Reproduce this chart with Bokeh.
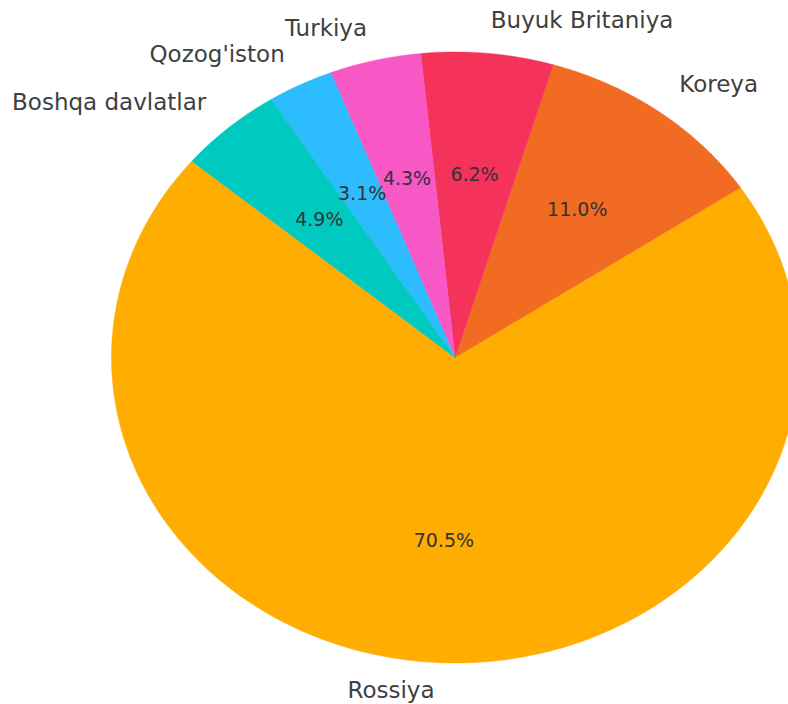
import numpy as np
from bokeh.plotting import figure
from bokeh.models import Range1d, ColumnDataSource
from bokeh.core.properties import value
from bokeh.embed import file_html
from bokeh.resources import INLINE

# Data
countries = ["Rossiya", "Koreya", "Buyuk Britaniya", "Turkiya", "Qozog'iston", "Boshqa davlatlar"]
shares = [70.5, 11.0, 6.2, 4.3, 3.1, 4.9]
colors = ["#FFAD00", "#F26B22", "#F5325A", "#F857C6", "#2DBDFF", "#00C9BF"]
start_angle_deg = 140.0

# Layout (screen geometry of the stretched pie)
W, H = 788, 704
cx_px, cy_px = 454.5, 357.0
rx_px, ry_px = 343.5, 305.5

p = figure(width=W, height=H, output_backend="svg", toolbar_location=None,
           x_range=Range1d(-cx_px / rx_px, (W - cx_px) / rx_px),
           y_range=Range1d(-(H - cy_px) / ry_px, cy_px / ry_px),
           min_border=0, min_border_left=0, min_border_right=0,
           min_border_top=0, min_border_bottom=0)
p.axis.visible = False
p.grid.visible = False
p.outline_line_color = None
p.background_fill_color = "white"
p.border_fill_color = "white"

total = float(sum(shares))
fracs = np.array(shares) / total
ends = start_angle_deg + 360.0 * np.cumsum(fracs)
starts = ends - 360.0 * fracs

xs, ys = [], []
for a0, a1 in zip(starts, ends):
    t = np.radians(np.linspace(a0, a1, 200))
    xs.append(np.concatenate([[0.0], np.cos(t), [0.0]]))
    ys.append(np.concatenate([[0.0], np.sin(t), [0.0]]))

p.patches(xs=xs, ys=ys, fill_color=colors, line_color=colors, line_width=0.5)

mid = np.radians((starts + ends) / 2.0)
# percentage labels
pct_src = ColumnDataSource(dict(
    x=0.6 * np.cos(mid), y=0.6 * np.sin(mid),
    t=["%.1f%%" % s for s in shares]))
p.text(x="x", y="y", text="t", source=pct_src, text_align="center",
       text_baseline="middle", text_font=value("DejaVu Sans"),
       text_font_size="19px", text_color="#333333", y_offset=-1)

# category labels
lx = 1.1 * np.cos(mid)
ly = 1.1 * np.sin(mid)
align = ["left" if v > 0 else "right" for v in lx]
lab_src = ColumnDataSource(dict(x=lx, y=ly, t=countries, a=align))
p.text(x="x", y="y", text="t", source=lab_src, text_align="a",
       text_baseline="middle", text_font=value("DejaVu Sans"),
       text_font_size="23px", text_color="#404040", y_offset=-3)

open("out.html", "w").write(file_html(p, INLINE))
